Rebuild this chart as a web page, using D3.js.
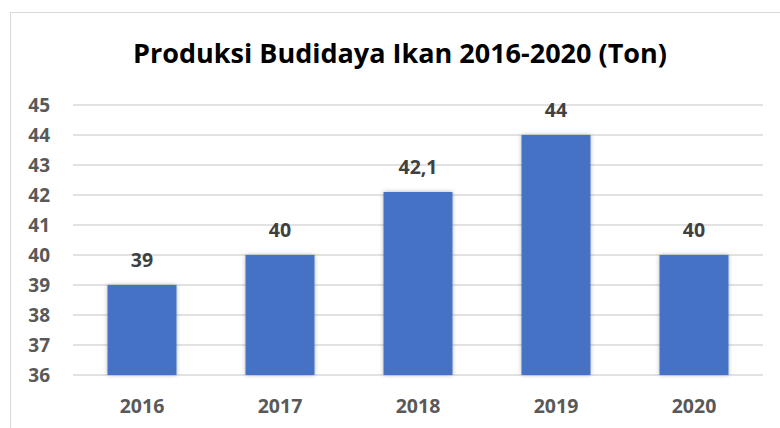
<!DOCTYPE html>
<html><head><meta charset="utf-8">
<script src="https://cdn.jsdelivr.net/npm/d3@7"></script>
<style>body{margin:0;background:#fff;}svg{display:block;}</style>
</head><body>
<svg id="c" width="780" height="428"></svg>
<script>
const categories = ["2016","2017","2018","2019","2020"];
const values = [39, 40, 42.1, 44, 40];
const valueLabels = ["39","40","42,1","44","40"];
const yTicks = [36,37,38,39,40,41,42,43,44,45];
const title = "Produksi Budidaya Ikan 2016-2020 (Ton)";

const svg = d3.select("#c");
const font = "'Open Sans', 'Liberation Sans', sans-serif";
const defs = svg.append("defs");
const f = defs.append("filter").attr("id","sh").attr("x","-20%").attr("y","-20%").attr("width","140%").attr("height","140%");
f.append("feDropShadow").attr("dx",0).attr("dy",0).attr("stdDeviation",2).attr("flood-color","#000").attr("flood-opacity",0.3);

// frame
svg.append("rect").attr("x",10.5).attr("y",12.5).attr("width",800).attr("height",500)
  .attr("fill","none").attr("stroke","#d9d9d9").attr("stroke-width",1);

const x = d3.scaleBand().domain(categories).range([73,763]).paddingInner(0.5).paddingOuter(0.25);
const y = d3.scaleLinear().domain([36,45]).range([375,105]);

// gridlines
svg.append("g").selectAll("line").data(yTicks).join("line")
  .attr("x1",73).attr("x2",763).attr("y1",d=>y(d)).attr("y2",d=>y(d))
  .attr("stroke","#d9d9d9").attr("stroke-width",1.5);

// y axis
const ya = svg.append("g").attr("transform","translate(73,0)")
  .call(d3.axisLeft(y).tickValues(yTicks).tickSize(0).tickPadding(23).tickFormat(d3.format("d")));
ya.select(".domain").remove();
ya.selectAll("text").attr("font-family",font).attr("font-weight","bold").attr("font-size",19).attr("fill","#595959");

// x axis
const xa = svg.append("g").attr("transform","translate(0,375)")
  .call(d3.axisBottom(x).tickSize(0).tickPadding(24));
xa.select(".domain").remove();
xa.selectAll("text").attr("font-family",font).attr("font-weight","bold").attr("font-size",19.5).attr("fill","#595959");

// bars
svg.append("g").selectAll("rect").data(values).join("rect")
  .attr("x",(d,i)=>x(categories[i])).attr("width",x.bandwidth())
  .attr("y",d=>y(d)).attr("height",d=>y(36)-y(d))
  .attr("fill","#4472C4").attr("filter","url(#sh)");

// data labels
svg.append("g").selectAll("text").data(values).join("text")
  .attr("x",(d,i)=>x(categories[i])+x.bandwidth()/2).attr("y",d=>y(d)-18)
  .attr("text-anchor","middle").attr("font-family",font).attr("font-weight","bold")
  .attr("font-size",19.5).attr("fill","#404040").text((d,i)=>valueLabels[i]);

// title
svg.append("text").attr("x",400).attr("y",63).attr("text-anchor","middle")
  .attr("font-family",font).attr("font-weight","bold").attr("font-size",27).attr("fill","#000")
  .text(title);
</script>
</body></html>
